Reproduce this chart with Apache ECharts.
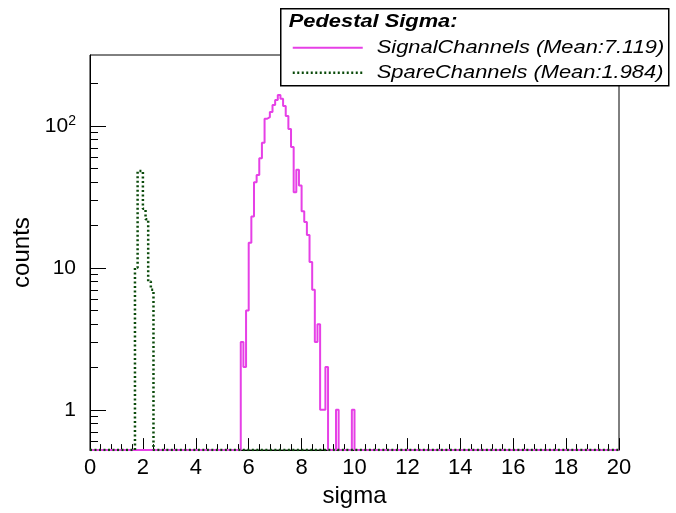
<!DOCTYPE html>
<html><head><meta charset="utf-8">
<script src="https://cdn.jsdelivr.net/npm/echarts@6/dist/echarts.min.js"></script>
<style>html,body{margin:0;padding:0;background:#fff}#c{width:676px;height:513px}</style>
</head><body><div id="c"></div>
<script>
// ---- data ----
const binWidth = 0.1;
const signalStart = 5.7;
const signalCounts = [3,2,5,15,23,40,45,59,76,112,115,125,140,152,165,155,138,117,95,71,34,49,38,25,21,17,11,7,3,4,1,1,2,0,0,0,1,0,0,0,0,0,1];
const spareStart = 1.7;
const spareCounts = [10,48,48,26,22,8,7];
const yMajorTicks = [1, 10, 100];
const yMinorTicks = [0.6,0.7,0.8,0.9,2,3,4,5,6,7,8,9,20,30,40,50,60,70,80,90,200];
const legendTitle = 'Pedestal Sigma:';
const signalLabel = 'SignalChannels (Mean:7.119)';
const spareLabel = 'SpareChannels (Mean:1.984)';
const xTitle = 'sigma';
const yTitle = 'counts';
const xMin = 0, xMax = 20, xInterval = 2;
const yMin = 0.52, yMax = 315;

// ---- build step outline (zero bins drawn on the axis floor, as ROOT does) ----
function r3(v) { return Math.round(v * 1000) / 1000; }
function steps(start, counts) {
  const pts = [[xMin, yMin], [r3(start), yMin]];
  for (let i = 0; i < counts.length; i++) {
    const x0 = r3(start + i * binWidth);
    const x1 = r3(start + (i + 1) * binWidth);
    const v = counts[i] > 0 ? counts[i] : yMin;
    pts.push([x0, v], [x1, v]);
  }
  const end = r3(start + counts.length * binWidth);
  pts.push([end, yMin], [xMax, yMin]);
  return pts;
}

const FONT = 'Liberation Sans';
const chart = echarts.init(document.getElementById('c'), null, {renderer: 'canvas'});
const MAG = '#e640e6', GRN = '#0a4a0a';
const SX = 1.15;

chart.setOption({
  animation: false,
  backgroundColor: '#fff',
  grid: {left: 90, right: 57, top: 55, bottom: 58, show: true, borderColor: '#000', borderWidth: 1, backgroundColor: 'transparent'},
  xAxis: {
    type: 'value', min: xMin, max: xMax, interval: xInterval,
    name: xTitle, nameLocation: 'middle', nameGap: 33,
    nameTextStyle: {fontFamily: FONT, fontSize: 24, color: '#000'},
    axisLine: {show: true, lineStyle: {color: '#000', width: 1}},
    axisTick: {show: true, inside: true, length: 12, lineStyle: {color: '#000'}},
    minorTick: {show: true, splitNumber: 5, length: 6, lineStyle: {color: '#000'}},
    splitLine: {show: false},
    axisLabel: {fontFamily: FONT, fontSize: 22, color: '#000', margin: 7}
  },
  yAxis: [{
    type: 'log', logBase: 10, min: yMin, max: yMax,
    name: yTitle, nameLocation: 'middle', nameGap: 47,
    nameTextStyle: {fontFamily: FONT, fontSize: 24, color: '#000'},
    axisLine: {show: true, lineStyle: {color: '#000', width: 1}},
    axisTick: {show: true, inside: true, length: 16, customValues: yMajorTicks, lineStyle: {color: '#000'}},
    splitLine: {show: false},
    axisLabel: {
      customValues: yMajorTicks, margin: 14, fontFamily: FONT, fontSize: 21, color: '#000',
      formatter: v => v === 100 ? '{b|10}{s|2}' : String(v),
      rich: {b: {fontFamily: FONT, fontSize: 21, color: '#000'}, s: {fontFamily: FONT, fontSize: 14, color: '#000', verticalAlign: 'top', padding: [0,0,10,0]}}
    }
  }, {
    type: 'log', logBase: 10, min: yMin, max: yMax, position: 'left',
    axisLine: {show: false},
    axisTick: {show: true, inside: true, length: 8, customValues: yMinorTicks, lineStyle: {color: '#000'}},
    axisLabel: {show: false},
    splitLine: {show: false}
  }],
  series: [{
    type: 'line', name: signalLabel, data: steps(signalStart, signalCounts), yAxisIndex: 0,
    showSymbol: false, clip: true, lineStyle: {color: MAG, width: 2}, z: 3
  }, {
    type: 'line', name: spareLabel, data: steps(spareStart, spareCounts), yAxisIndex: 0,
    showSymbol: false, clip: true, lineStyle: {color: GRN, width: 2.5, type: [2, 2.5]}, z: 4
  }],
  graphic: [{
    type: 'group', left: 280, top: 8, z: 100,
    children: [
      {type: 'rect', shape: {x: 0, y: 0, width: 388, height: 77}, style: {fill: '#fff', stroke: '#000', lineWidth: 1.5}},
      {type: 'text', x: 8, y: 4, scaleX: SX, style: {text: legendTitle, font: 'italic bold 19px "Liberation Sans"', fill: '#000'}},
      {type: 'line', shape: {x1: 12, y1: 39, x2: 82, y2: 39}, style: {stroke: MAG, lineWidth: 2}},
      {type: 'text', x: 96, y: 29, scaleX: SX, style: {text: signalLabel, font: 'italic 19px "Liberation Sans"', fill: '#000'}},
      {type: 'line', shape: {x1: 12, y1: 64, x2: 82, y2: 64}, style: {stroke: GRN, lineWidth: 2.5, lineDash: [2, 2.5]}},
      {type: 'text', x: 96, y: 54, scaleX: SX, style: {text: spareLabel, font: 'italic 19px "Liberation Sans"', fill: '#000'}}
    ]
  }]
});
</script></body></html>
